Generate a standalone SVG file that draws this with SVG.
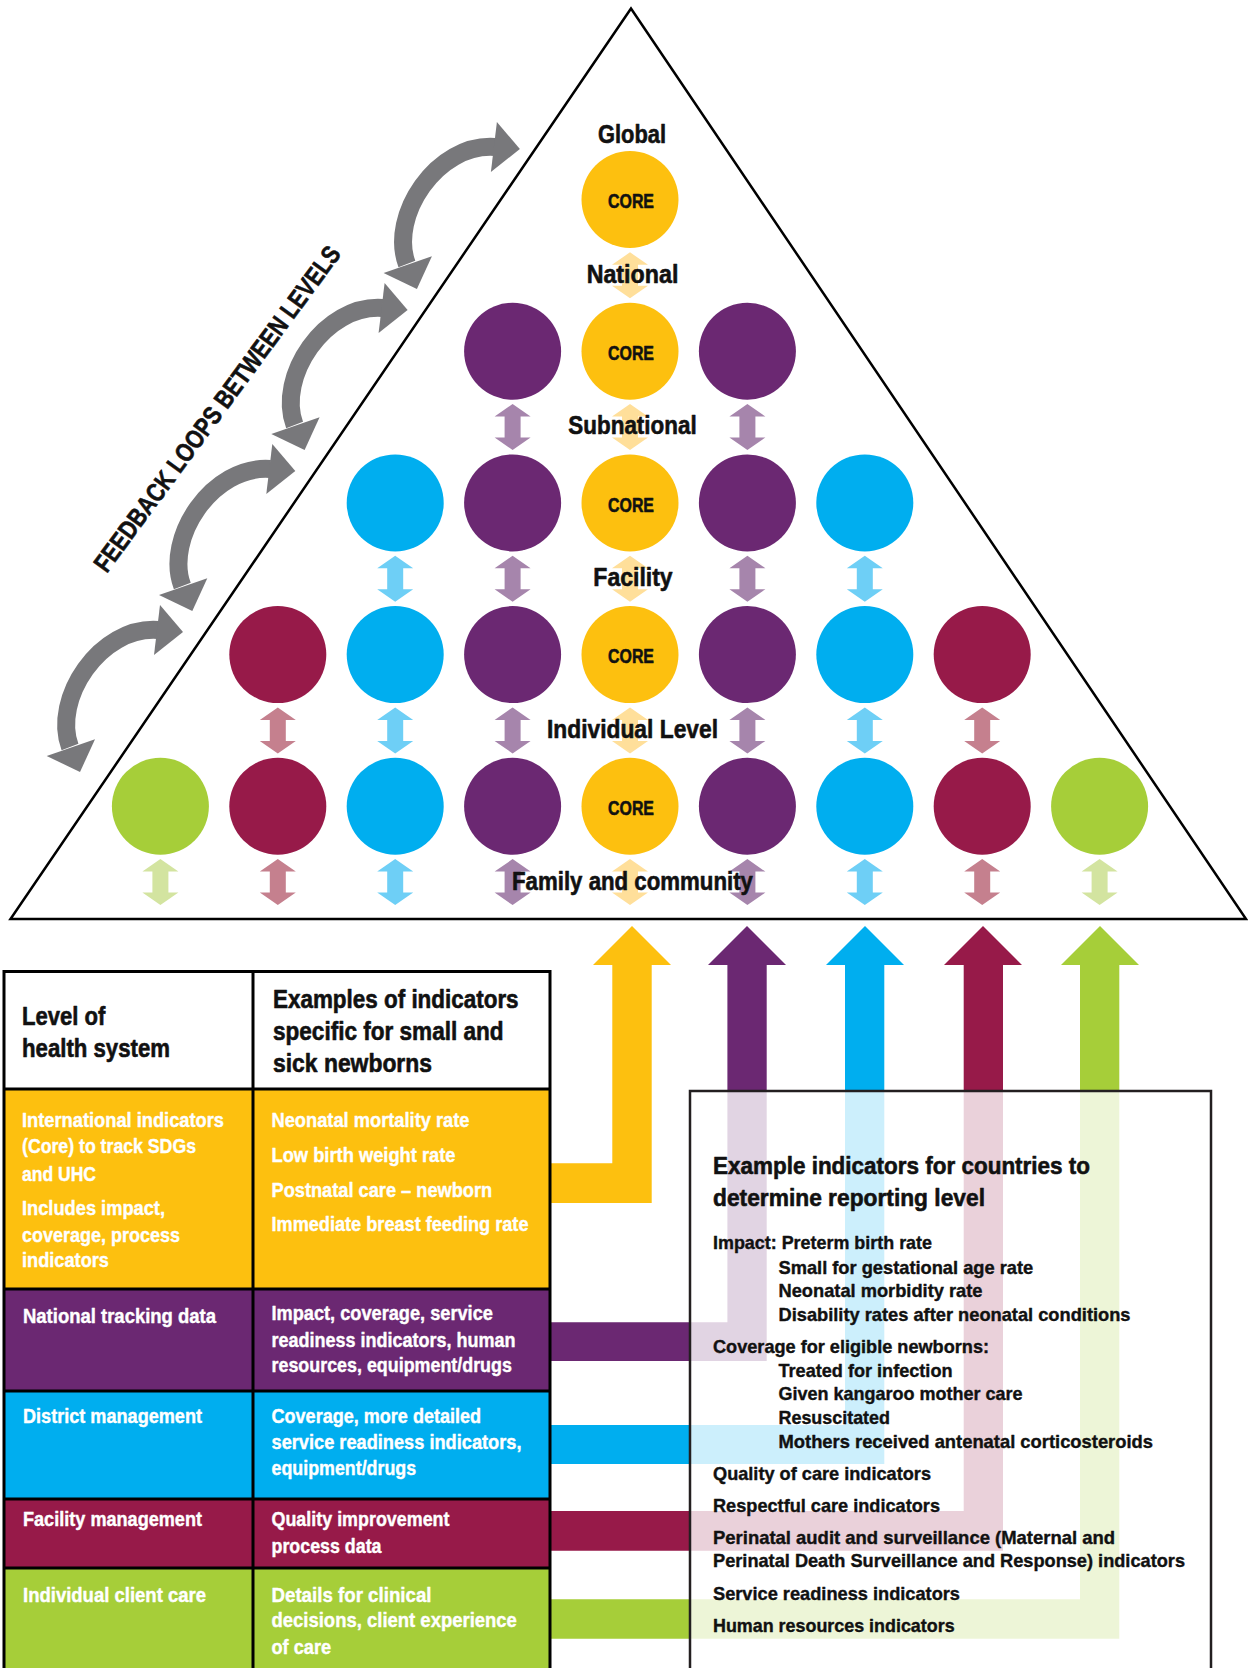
<svg xmlns="http://www.w3.org/2000/svg" xmlns:xlink="http://www.w3.org/1999/xlink" width="1248" height="1668" viewBox="0 0 1248 1668">
<style>
.t{font-family:"Liberation Sans Narrow","Liberation Sans",Arial,sans-serif;font-weight:bold;stroke-width:0.6;stroke-linejoin:round}
.lvl{font-size:25.5px;fill:#111;stroke:#111;text-anchor:middle}
.core{font-size:21px;fill:#111;stroke:#111;text-anchor:middle}
.hd{font-size:25.5px;fill:#111;stroke:#111}
.cell{font-size:19.8px;fill:#fff;stroke:#fff;stroke-width:0.4}
.bx{font-size:19px;fill:#111;stroke:#111;stroke-width:0.4}
.bxt{font-size:24.5px;fill:#111;stroke:#111}
.fb{font-size:26px;fill:#111;stroke:#111}
.grid{stroke:#000;stroke-width:3;fill:none}
.cY{fill:#FDC00F}.cP{fill:#6B2872}.cB{fill:#00AEEF}.cM{fill:#971A49}.cG{fill:#A6CE39}
.lY{fill:#FFDF9A}.lP{fill:#A685AC}.lB{fill:#6ECFF6}.lM{fill:#C5808E}.lG{fill:#D3E4A0}
</style>
<defs>
<path id="da" d="M0,-23 L18,-10.5 L8,-10.5 L8,10.5 L18,10.5 L0,23 L-18,10.5 L-8,10.5 L-8,-10.5 L-18,-10.5 Z"/>
<g id="arc">
<path d="M70,747 C52,699 100,626 158,630" fill="none" stroke="#78787B" stroke-width="18"/>
<polygon points="160,605 183,632 154,655" fill="#78787B"/>
<polygon points="46.7,756 80,772 95,739.3" fill="#78787B"/>
</g>
</defs>

<g id="pyramid">
<polygon points="631,8.5 10.5,919 1246,919" fill="#fff" stroke="#000" stroke-width="2.5"/>
</g>

<g id="level-arrows">
<use xlink:href="#da" x="630" y="275.3" class="lY"/>
<use xlink:href="#da" x="512.6" y="427" class="lP"/>
<use xlink:href="#da" x="630" y="427" class="lY"/>
<use xlink:href="#da" x="747.4" y="427" class="lP"/>
<use xlink:href="#da" x="395.2" y="578.7" class="lB"/>
<use xlink:href="#da" x="512.6" y="578.7" class="lP"/>
<use xlink:href="#da" x="630" y="578.7" class="lY"/>
<use xlink:href="#da" x="747.4" y="578.7" class="lP"/>
<use xlink:href="#da" x="864.8" y="578.7" class="lB"/>
<use xlink:href="#da" x="277.8" y="730.4" class="lM"/>
<use xlink:href="#da" x="395.2" y="730.4" class="lB"/>
<use xlink:href="#da" x="512.6" y="730.4" class="lP"/>
<use xlink:href="#da" x="630" y="730.4" class="lY"/>
<use xlink:href="#da" x="747.4" y="730.4" class="lP"/>
<use xlink:href="#da" x="864.8" y="730.4" class="lB"/>
<use xlink:href="#da" x="982.2" y="730.4" class="lM"/>
<use xlink:href="#da" x="160.4" y="882.1" class="lG"/>
<use xlink:href="#da" x="277.8" y="882.1" class="lM"/>
<use xlink:href="#da" x="395.2" y="882.1" class="lB"/>
<use xlink:href="#da" x="512.6" y="882.1" class="lP"/>
<use xlink:href="#da" x="630" y="882.1" class="lY"/>
<use xlink:href="#da" x="747.4" y="882.1" class="lP"/>
<use xlink:href="#da" x="864.8" y="882.1" class="lB"/>
<use xlink:href="#da" x="982.2" y="882.1" class="lM"/>
<use xlink:href="#da" x="1099.6" y="882.1" class="lG"/>
</g>

<g id="circles">
<g id="global-core"><circle cx="630" cy="199.5" r="48.5" class="cY"/><text class="t core" x="631" y="208.3" textLength="46" lengthAdjust="spacingAndGlyphs">CORE</text></g>
<g id="national-p1"><circle cx="512.6" cy="351.2" r="48.5" class="cP"/></g>
<g id="national-core"><circle cx="630" cy="351.2" r="48.5" class="cY"/><text class="t core" x="631" y="360" textLength="46" lengthAdjust="spacingAndGlyphs">CORE</text></g>
<g id="national-p2"><circle cx="747.4" cy="351.2" r="48.5" class="cP"/></g>
<g id="sub-b1"><circle cx="395.2" cy="502.9" r="48.5" class="cB"/></g>
<g id="sub-p1"><circle cx="512.6" cy="502.9" r="48.5" class="cP"/></g>
<g id="sub-core"><circle cx="630" cy="502.9" r="48.5" class="cY"/><text class="t core" x="631" y="511.7" textLength="46" lengthAdjust="spacingAndGlyphs">CORE</text></g>
<g id="sub-p2"><circle cx="747.4" cy="502.9" r="48.5" class="cP"/></g>
<g id="sub-b2"><circle cx="864.8" cy="502.9" r="48.5" class="cB"/></g>
<g id="fac-m1"><circle cx="277.8" cy="654.6" r="48.5" class="cM"/></g>
<g id="fac-b1"><circle cx="395.2" cy="654.6" r="48.5" class="cB"/></g>
<g id="fac-p1"><circle cx="512.6" cy="654.6" r="48.5" class="cP"/></g>
<g id="fac-core"><circle cx="630" cy="654.6" r="48.5" class="cY"/><text class="t core" x="631" y="663.4" textLength="46" lengthAdjust="spacingAndGlyphs">CORE</text></g>
<g id="fac-p2"><circle cx="747.4" cy="654.6" r="48.5" class="cP"/></g>
<g id="fac-b2"><circle cx="864.8" cy="654.6" r="48.5" class="cB"/></g>
<g id="fac-m2"><circle cx="982.2" cy="654.6" r="48.5" class="cM"/></g>
<g id="ind-g1"><circle cx="160.4" cy="806.3" r="48.5" class="cG"/></g>
<g id="ind-m1"><circle cx="277.8" cy="806.3" r="48.5" class="cM"/></g>
<g id="ind-b1"><circle cx="395.2" cy="806.3" r="48.5" class="cB"/></g>
<g id="ind-p1"><circle cx="512.6" cy="806.3" r="48.5" class="cP"/></g>
<g id="ind-core"><circle cx="630" cy="806.3" r="48.5" class="cY"/><text class="t core" x="631" y="815.1" textLength="46" lengthAdjust="spacingAndGlyphs">CORE</text></g>
<g id="ind-p2"><circle cx="747.4" cy="806.3" r="48.5" class="cP"/></g>
<g id="ind-b2"><circle cx="864.8" cy="806.3" r="48.5" class="cB"/></g>
<g id="ind-m2"><circle cx="982.2" cy="806.3" r="48.5" class="cM"/></g>
<g id="ind-g2"><circle cx="1099.6" cy="806.3" r="48.5" class="cG"/></g>
</g>

<g id="level-labels">
<text class="t lvl" x="632" y="142.7" textLength="68" lengthAdjust="spacingAndGlyphs">Global</text>
<text class="t lvl" x="632.5" y="282.7" textLength="91.7" lengthAdjust="spacingAndGlyphs">National</text>
<text class="t lvl" x="632.5" y="434.3" textLength="128.3" lengthAdjust="spacingAndGlyphs">Subnational</text>
<text class="t lvl" x="633" y="586" textLength="79.3" lengthAdjust="spacingAndGlyphs">Facility</text>
<text class="t lvl" x="632.5" y="738" textLength="171" lengthAdjust="spacingAndGlyphs">Individual Level</text>
<text class="t lvl" x="632.5" y="890" textLength="241" lengthAdjust="spacingAndGlyphs">Family and community</text>
</g>

<g id="feedback">
<use xlink:href="#arc"/>
<use xlink:href="#arc" transform="translate(112.3,-161)"/>
<use xlink:href="#arc" transform="translate(224.6,-322)"/>
<use xlink:href="#arc" transform="translate(336.9,-483)"/>
<text class="t fb" transform="translate(106.7,574) rotate(-53.7)" textLength="397" lengthAdjust="spacingAndGlyphs">FEEDBACK LOOPS BETWEEN LEVELS</text>
</g>

<g id="connectors">
<polygon class="cY" points="551,1163.3 612.3,1163.3 612.3,965 593,965 632,926 671,965 651.7,965 651.7,1203 551,1203"/>
<polygon class="cP" points="551,1322.3 727.4,1322.3 727.4,965 708,965 747,926 786,965 766.7,965 766.7,1361 551,1361"/>
<polygon class="cB" points="551,1425 845,1425 845,965 826,965 865,926 904,965 884.3,965 884.3,1464 551,1464"/>
<polygon class="cM" points="551,1511 963.7,1511 963.7,965 944,965 983,926 1022,965 1003,965 1003,1550.7 551,1550.7"/>
<polygon class="cG" points="551,1599.3 1080,1599.3 1080,965 1061,965 1100,926 1139,965 1119.3,965 1119.3,1638.7 551,1638.7"/>
</g>

<g id="example-box">
<rect x="690" y="1091" width="521" height="620" fill="#fff" fill-opacity="0.8" stroke="#231F20" stroke-width="2.5"/>
<text class="t bxt" x="713" y="1174" textLength="377" lengthAdjust="spacingAndGlyphs">Example indicators for countries to</text>
<text class="t bxt" x="713" y="1206" textLength="272" lengthAdjust="spacingAndGlyphs">determine reporting level</text>
<text class="t bx" x="713" y="1249.3" textLength="219" lengthAdjust="spacingAndGlyphs">Impact: Preterm birth rate</text>
<text class="t bx" x="778.5" y="1274" textLength="254.7" lengthAdjust="spacingAndGlyphs">Small for gestational age rate</text>
<text class="t bx" x="778.5" y="1297" textLength="204" lengthAdjust="spacingAndGlyphs">Neonatal morbidity rate</text>
<text class="t bx" x="778.5" y="1320.7" textLength="352" lengthAdjust="spacingAndGlyphs">Disability rates after neonatal conditions</text>
<text class="t bx" x="713" y="1352.7" textLength="276" lengthAdjust="spacingAndGlyphs">Coverage for eligible newborns:</text>
<text class="t bx" x="778.5" y="1376.7" textLength="174" lengthAdjust="spacingAndGlyphs">Treated for infection</text>
<text class="t bx" x="778.5" y="1400" textLength="244" lengthAdjust="spacingAndGlyphs">Given kangaroo mother care</text>
<text class="t bx" x="778.5" y="1424" textLength="111.5" lengthAdjust="spacingAndGlyphs">Resuscitated</text>
<text class="t bx" x="778.5" y="1448.3" textLength="374.5" lengthAdjust="spacingAndGlyphs">Mothers received antenatal corticosteroids</text>
<text class="t bx" x="713" y="1480" textLength="218" lengthAdjust="spacingAndGlyphs">Quality of care indicators</text>
<text class="t bx" x="713" y="1512.3" textLength="227" lengthAdjust="spacingAndGlyphs">Respectful care indicators</text>
<text class="t bx" x="713" y="1544" textLength="402" lengthAdjust="spacingAndGlyphs">Perinatal audit and surveillance (Maternal and</text>
<text class="t bx" x="713" y="1567.3" textLength="472" lengthAdjust="spacingAndGlyphs">Perinatal Death Surveillance and Response) indicators</text>
<text class="t bx" x="713" y="1600" textLength="247" lengthAdjust="spacingAndGlyphs">Service readiness indicators</text>
<text class="t bx" x="713" y="1631.7" textLength="241.6" lengthAdjust="spacingAndGlyphs">Human resources indicators</text>
</g>

<g id="table">
<g id="row-header">
<rect x="4" y="971.5" width="546" height="117.5" fill="#fff"/>
<text class="t hd" x="22" y="1025" textLength="83.4" lengthAdjust="spacingAndGlyphs">Level of</text>
<text class="t hd" x="22" y="1056.7" textLength="148" lengthAdjust="spacingAndGlyphs">health system</text>
<text class="t hd" x="273" y="1008.3" textLength="245.6" lengthAdjust="spacingAndGlyphs">Examples of indicators</text>
<text class="t hd" x="273" y="1040" textLength="230.6" lengthAdjust="spacingAndGlyphs">specific for small and</text>
<text class="t hd" x="273" y="1071.7" textLength="159" lengthAdjust="spacingAndGlyphs">sick newborns</text>
</g>
<g id="row-international">
<rect x="4" y="1089" width="546" height="200" class="cY"/>
<text class="t cell" x="22" y="1126.7" textLength="202" lengthAdjust="spacingAndGlyphs">International indicators</text>
<text class="t cell" x="22" y="1153.3" textLength="174" lengthAdjust="spacingAndGlyphs">(Core) to track SDGs</text>
<text class="t cell" x="22" y="1180.7" textLength="74" lengthAdjust="spacingAndGlyphs">and UHC</text>
<text class="t cell" x="22" y="1215" textLength="143" lengthAdjust="spacingAndGlyphs">Includes impact,</text>
<text class="t cell" x="22" y="1241.7" textLength="158" lengthAdjust="spacingAndGlyphs">coverage, process</text>
<text class="t cell" x="22" y="1267.3" textLength="87" lengthAdjust="spacingAndGlyphs">indicators</text>
<text class="t cell" x="271.5" y="1126.7" textLength="198" lengthAdjust="spacingAndGlyphs">Neonatal mortality rate</text>
<text class="t cell" x="271.5" y="1161.7" textLength="184" lengthAdjust="spacingAndGlyphs">Low birth weight rate</text>
<text class="t cell" x="271.5" y="1196.7" textLength="220.7" lengthAdjust="spacingAndGlyphs">Postnatal care – newborn</text>
<text class="t cell" x="271.5" y="1230.7" textLength="257" lengthAdjust="spacingAndGlyphs">Immediate breast feeding rate</text>
</g>
<g id="row-national">
<rect x="4" y="1289" width="546" height="102" class="cP"/>
<text class="t cell" x="23" y="1323.3" textLength="193" lengthAdjust="spacingAndGlyphs">National tracking data</text>
<text class="t cell" x="271.5" y="1320" textLength="221.4" lengthAdjust="spacingAndGlyphs">Impact, coverage, service</text>
<text class="t cell" x="271.5" y="1346.7" textLength="244" lengthAdjust="spacingAndGlyphs">readiness indicators, human</text>
<text class="t cell" x="271.5" y="1371.7" textLength="240.4" lengthAdjust="spacingAndGlyphs">resources, equipment/drugs</text>
</g>
<g id="row-district">
<rect x="4" y="1391" width="546" height="108" class="cB"/>
<text class="t cell" x="23" y="1422.7" textLength="179" lengthAdjust="spacingAndGlyphs">District management</text>
<text class="t cell" x="271.5" y="1422.7" textLength="209.6" lengthAdjust="spacingAndGlyphs">Coverage, more detailed</text>
<text class="t cell" x="271.5" y="1449.3" textLength="250" lengthAdjust="spacingAndGlyphs">service readiness indicators,</text>
<text class="t cell" x="271.5" y="1475" textLength="144.6" lengthAdjust="spacingAndGlyphs">equipment/drugs</text>
</g>
<g id="row-facility">
<rect x="4" y="1499" width="546" height="69" class="cM"/>
<text class="t cell" x="23" y="1525.7" textLength="179" lengthAdjust="spacingAndGlyphs">Facility management</text>
<text class="t cell" x="271.5" y="1525.7" textLength="178" lengthAdjust="spacingAndGlyphs">Quality improvement</text>
<text class="t cell" x="271.5" y="1552.7" textLength="110" lengthAdjust="spacingAndGlyphs">process data</text>
</g>
<g id="row-individual">
<rect x="4" y="1568" width="546" height="110" class="cG"/>
<text class="t cell" x="23" y="1601.7" textLength="183" lengthAdjust="spacingAndGlyphs">Individual client care</text>
<text class="t cell" x="271.5" y="1601.7" textLength="160" lengthAdjust="spacingAndGlyphs">Details for clinical</text>
<text class="t cell" x="271.5" y="1627.3" textLength="245.4" lengthAdjust="spacingAndGlyphs">decisions, client experience</text>
<text class="t cell" x="271.5" y="1654" textLength="59.6" lengthAdjust="spacingAndGlyphs">of care</text>
</g>
<path class="grid" d="M4,1680 V971.5 H550 V1680 M253,971.5 V1680 M4,1089 H550 M4,1289 H550 M4,1391 H550 M4,1499 H550 M4,1568 H550"/>
</g>
</svg>
